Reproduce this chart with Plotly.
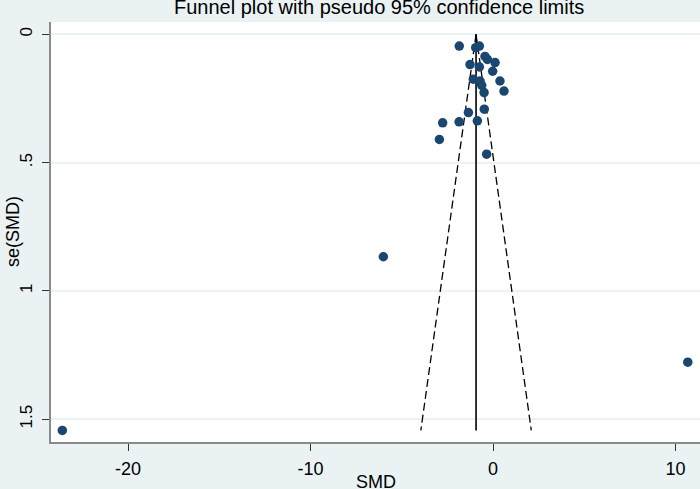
import plotly.graph_objects as go

# Study-level data
smd = [-1.85, -0.95, -0.75, -0.44, -0.31, 0.11, -1.26, -0.75, -0.02, -1.08,
       -0.71, 0.38, -0.62, 0.60, -0.49, -0.48, -1.35, -2.76, -1.86, -0.86,
       -2.94, -0.35, -6.01, 10.67, -23.60]
se_smd = [0.046, 0.052, 0.046, 0.086, 0.098, 0.110, 0.118, 0.127, 0.144, 0.175,
          0.182, 0.182, 0.199, 0.221, 0.227, 0.292, 0.305, 0.345, 0.341, 0.337,
          0.410, 0.467, 0.867, 1.278, 1.544]
pooled_smd = -0.93
z95 = 1.96

x_ticks = [-20, -10, 0, 10]
x_tick_labels = ["-20", "-10", "0", "10"]
y_ticks = [0, 0.5, 1, 1.5]
y_tick_labels = ["0", ".5", "1", "1.5"]

FONT = "Liberation Sans, Arial, sans-serif"
BG = "#eaf2f3"

se_line = [0, max(se_smd)]
lower = [pooled_smd - z95 * s for s in se_line]
upper = [pooled_smd + z95 * s for s in se_line]

fig = go.Figure()
fig.add_trace(go.Scatter(x=lower, y=se_line, mode="lines",
                         line=dict(color="black", width=1.3, dash="8px,4px"),
                         showlegend=False, hoverinfo="skip"))
fig.add_trace(go.Scatter(x=upper, y=se_line, mode="lines",
                         line=dict(color="black", width=1.3, dash="8px,4px"),
                         showlegend=False, hoverinfo="skip"))
fig.add_trace(go.Scatter(x=[pooled_smd, pooled_smd], y=se_line, mode="lines",
                         line=dict(color="black", width=1.6),
                         showlegend=False, hoverinfo="skip"))
fig.add_trace(go.Scatter(x=smd, y=se_smd, mode="markers",
                         marker=dict(color="#1a476f", size=9.5, line=dict(width=0)),
                         cliponaxis=False, showlegend=False))

fig.update_layout(
    width=700, height=489,
    margin=dict(l=51, r=0, t=22, b=47, autoexpand=False),
    paper_bgcolor=BG, plot_bgcolor="white",
    font=dict(family=FONT, color="black"),
    xaxis=dict(range=[-24.22, 11.34], tickvals=x_ticks, ticktext=x_tick_labels,
               ticks="outside",
               ticklen=7, tickwidth=1.2, tickcolor="#333",
               showline=True, linecolor="#8a8a8a", linewidth=1.8,
               showgrid=False, zeroline=False, automargin=False,
               tickfont=dict(size=18, family=FONT, color="black"),
               ticklabelstandoff=2),
    yaxis=dict(range=[1.589, -0.048], tickvals=y_ticks, ticktext=y_tick_labels,
               tickangle=-90, ticks="outside", ticklen=7, tickwidth=1.2,
               tickcolor="#333", showline=True, linecolor="#8a8a8a",
               linewidth=1.8, showgrid=True, gridcolor=BG, gridwidth=1.5,
               zeroline=False, automargin=False,
               tickfont=dict(size=17, family=FONT, color="black"),
               ticklabelstandoff=3),
    annotations=[
        dict(text="Funnel plot with pseudo 95% confidence limits",
             xref="paper", yref="paper", x=(378.5 - 51) / 649, y=1, yshift=15,
             xanchor="center", yanchor="middle", showarrow=False,
             font=dict(size=20, family=FONT, color="black")),
        dict(text="SMD", xref="paper", yref="paper", x=0.5, y=0,
             yshift=-28, xanchor="center", yanchor="top", showarrow=False,
             font=dict(size=18, family=FONT, color="black")),
        dict(text="se(SMD)", xref="paper", yref="paper", x=0, y=0.5,
             xshift=-50, xanchor="left", yanchor="middle", textangle=-90,
             showarrow=False, font=dict(size=18, family=FONT, color="black")),
    ],
)

fig.write_html("out.html",
               config={"displayModeBar": False},
               post_script="document.body.style.margin='0';"
                           "document.body.style.overflow='hidden';")
